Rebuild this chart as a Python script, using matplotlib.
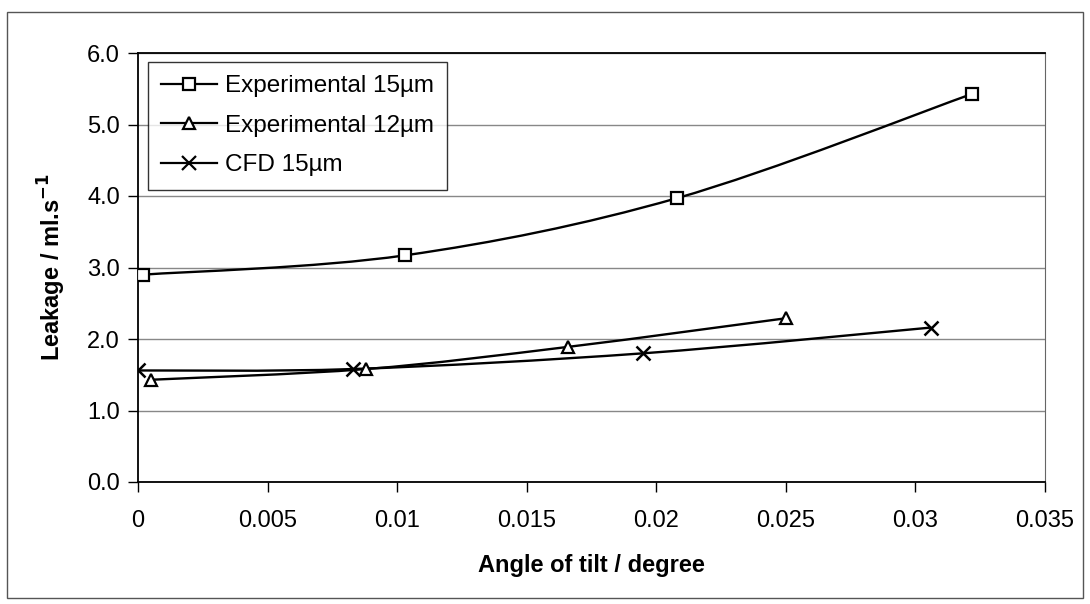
import matplotlib
matplotlib.use("Agg")
import matplotlib.pyplot as plt
from matplotlib.path import Path
from matplotlib.patches import PathPatch, Rectangle
from matplotlib.lines import Line2D

plt.rcParams['font.family'] = ['Liberation Sans', 'DejaVu Sans']

# data
exp15_x = [0.0002, 0.0103, 0.0208, 0.0322]
exp15_y = [2.90, 3.17, 3.97, 5.43]

exp12_x = [0.0005, 0.0088, 0.0166, 0.0250]
exp12_y = [1.43, 1.58, 1.89, 2.29]

cfd15_x = [0.0, 0.0083, 0.0195, 0.0306]
cfd15_y = [1.56, 1.58, 1.80, 2.16]

labels = ["Experimental 15µm", "Experimental 12µm", "CFD 15µm"]
markers = ["s", "^", "x"]
x_ticks = [0, 0.005, 0.01, 0.015, 0.02, 0.025, 0.03, 0.035]
x_tick_labels = ["0", "0.005", "0.01", "0.015", "0.02", "0.025", "0.03", "0.035"]
y_ticks = [0, 1, 2, 3, 4, 5, 6]


def smooth_path(xs, ys):
    # Excel-style smoothed line: cubic bezier through every point
    pts = list(zip(xs, ys))
    n = len(pts)
    verts = [pts[0]]
    codes = [Path.MOVETO]
    for i in range(n - 1):
        p0 = pts[max(i - 1, 0)]
        p1 = pts[i]
        p2 = pts[i + 1]
        p3 = pts[min(i + 2, n - 1)]
        c1 = (p1[0] + (p2[0] - p0[0]) / 6, p1[1] + (p2[1] - p0[1]) / 6)
        c2 = (p2[0] - (p3[0] - p1[0]) / 6, p2[1] - (p3[1] - p1[1]) / 6)
        verts += [c1, c2, p2]
        codes += [Path.CURVE4] * 3
    return Path(verts, codes)


fig = plt.figure(figsize=(10.9, 6.04), dpi=100)
ax = fig.add_axes([138 / 1090, 1 - 482 / 604, 907 / 1090, 429 / 604])

# outer chart frame
fig.patches.append(Rectangle((7 / 1090, 6 / 604), 1076 / 1090, 586 / 604,
                             transform=fig.transFigure, fill=False,
                             edgecolor="#555555", linewidth=1.0))

series = [(exp15_x, exp15_y), (exp12_x, exp12_y), (cfd15_x, cfd15_y)]
handles = []
for (xs, ys), lab, mk in zip(series, labels, markers):
    ax.add_patch(PathPatch(smooth_path(xs, ys), fill=False,
                           edgecolor="black", linewidth=1.7, zorder=3))
    if mk == "x":
        ax.plot(xs, ys, linestyle="none", marker="x", markersize=10,
                markeredgewidth=1.8, color="black", zorder=4)
    else:
        ax.plot(xs, ys, linestyle="none", marker=mk, markersize=8,
                markerfacecolor="white", markeredgecolor="black",
                markeredgewidth=1.6, zorder=4)
    handles.append(Line2D([], [], color="black", linewidth=1.6, marker=mk,
                          markersize=8 if mk != "x" else 10,
                          markerfacecolor="white", markeredgewidth=1.6))

ax.set_xlim(0, 0.035)
ax.set_ylim(0, 6)
ax.set_xticks(x_ticks)
ax.set_xticklabels(x_tick_labels)
ax.set_yticks(y_ticks)
ax.set_yticklabels([f"{v:.1f}" for v in y_ticks])
ax.tick_params(direction="out", length=7, width=1, labelsize=17, pad=6)
ax.tick_params(axis="x", pad=13)

ax.yaxis.grid(True, color="#888888", linewidth=1.0)
ax.set_axisbelow(True)
for side in ["left", "bottom", "top"]:
    ax.spines[side].set_color("black")
    ax.spines[side].set_linewidth(1.3)
ax.spines["right"].set_color("#666666")

ax.set_xlabel("Angle of tilt / degree", fontsize=17, fontweight="bold", labelpad=16)
ax.set_ylabel("Leakage / ml.s$^{\\mathbf{-1}}$", fontsize=17, fontweight="bold", labelpad=14)

leg = ax.legend(handles, labels, loc="upper left", bbox_to_anchor=(0.011, 0.979),
                fontsize=17.5, frameon=True, fancybox=False, edgecolor="black",
                handlelength=2.3, handletextpad=0.3, labelspacing=0.72,
                borderpad=0.55, borderaxespad=0)
leg.get_frame().set_linewidth(1.0)

fig.savefig("out.png", dpi=100)
